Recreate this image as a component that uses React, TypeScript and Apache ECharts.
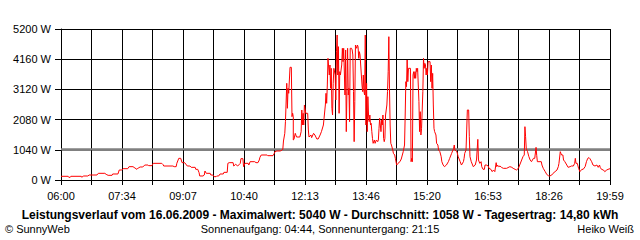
import React, { useEffect, useRef } from "react";
import * as echarts from "echarts";

// x values: minutes after 06:00 (axis spans 06:00 .. 19:59)
const X_TICK_LABELS = ["06:00", "07:34", "09:07", "10:40", "12:13", "13:46", "15:20", "16:53", "18:26", "19:59"];
const SPAN_MINUTES = 839;
const Y_MAX = 5200;
const Y_STEP = 1040;
const AVERAGE_W = 1058;

const TITLE = "Leistungsverlauf vom 16.06.2009 - Maximalwert: 5040 W - Durchschnitt: 1058 W - Tagesertrag: 14,80 kWh";
const FOOTER_LEFT = "© SunnyWeb";
const FOOTER_CENTER = "Sonnenaufgang: 04:44, Sonnenuntergang: 21:15";
const FOOTER_RIGHT = "Heiko Weiß";

const MINUTES = [
  0, 11, 12, 14, 15, 31, 32, 34, 41, 43, 55, 57, 67, 69, 72, 78, 79, 87, 89, 93,
  95, 102, 104, 110, 113, 116, 118, 121, 125, 128, 133, 134, 139, 141, 154, 156, 157, 171, 173, 176,
  177, 180, 183, 185, 189, 193, 197, 199, 205, 206, 209, 211, 212, 217, 219, 220, 222, 228, 229, 232,
  234, 237, 238, 241, 243, 248, 249, 254, 255, 257, 263, 264, 267, 270, 274, 275, 278, 279, 281, 286,
  287, 289, 296, 298, 301, 303, 304, 306, 315, 316, 324, 326, 327, 330, 335, 338, 339, 340, 342, 343,
  345, 346, 347, 348, 350, 352, 353, 354, 355, 355, 356, 358, 360, 365, 367, 368, 369, 370, 371, 372,
  374, 377, 378, 379, 382, 383, 386, 388, 391, 393, 396, 398, 401, 402, 404, 405, 406, 407, 408, 410,
  411, 412, 413, 414, 415, 416, 417, 419, 420, 421, 422, 423, 424, 425, 426, 427, 429, 430, 431, 432,
  434, 435, 436, 437, 438, 439, 440, 441, 442, 444, 445, 446, 447, 448, 449, 450, 451, 452, 453, 454,
  455, 456, 457, 459, 460, 461, 462, 463, 464, 465, 466, 467, 468, 469, 470, 471, 472, 473, 474, 475,
  476, 477, 479, 480, 482, 484, 485, 486, 487, 489, 490, 491, 492, 493, 494, 495, 496, 498, 499, 500,
  501, 502, 503, 504, 505, 507, 508, 510, 511, 513, 514, 515, 518, 520, 523, 525, 526, 527, 528, 529,
  530, 531, 534, 535, 536, 537, 538, 539, 540, 541, 542, 543, 544, 545, 546, 547, 548, 549, 550, 551,
  552, 553, 554, 555, 556, 557, 558, 559, 560, 561, 564, 565, 566, 567, 568, 569, 570, 571, 573, 574,
  576, 577, 579, 581, 582, 584, 586, 587, 589, 592, 594, 597, 600, 601, 602, 605, 607, 610, 612, 615,
  616, 617, 619, 620, 621, 623, 624, 625, 627, 629, 630, 633, 635, 636, 637, 638, 640, 642, 643, 645,
  647, 648, 650, 653, 654, 657, 659, 661, 663, 665, 666, 667, 669, 671, 673, 676, 681, 686, 689, 691,
  694, 696, 699, 701, 704, 706, 708, 709, 710, 711, 713, 715, 717, 719, 722, 724, 726, 727, 728, 734,
  735, 737, 740, 742, 745, 747, 750, 752, 755, 758, 760, 761, 763, 764, 765, 767, 768, 770, 773, 775,
  778, 780, 783, 785, 786, 787, 789, 791, 792, 793, 796, 798, 801, 803, 805, 807, 808, 811, 813, 816,
  819, 821, 823, 824, 826, 829, 831, 834, 836, 839,
];

const WATTS = [
  127, 127, 92, 92, 127, 127, 92, 138, 138, 172, 172, 230, 230, 195, 161, 161, 207, 207, 344, 344,
  390, 390, 459, 459, 413, 367, 413, 448, 448, 516, 516, 494, 494, 574, 574, 528, 482, 482, 459, 459,
  574, 746, 746, 597, 597, 482, 482, 436, 436, 367, 367, 252, 138, 138, 172, 310, 230, 230, 172, 172,
  115, 115, 138, 138, 207, 207, 264, 264, 574, 597, 597, 482, 540, 482, 574, 735, 735, 459, 574, 574,
  516, 631, 631, 597, 597, 689, 781, 861, 861, 838, 838, 918, 976, 999, 999, 1033, 1060, 1343, 1607, 2009,
  3330, 2469, 3158, 2985, 3881, 3881, 2180, 2300, 2180, 1378, 1400, 1607, 1480, 1480, 1665, 2411, 1894, 2296, 1894, 2583,
  2296, 2296, 1722, 1480, 1550, 1458, 1607, 1550, 1412, 1412, 1550, 1665, 1894, 2125, 2583, 2985, 2641, 3272, 4190, 3616,
  3960, 3158, 3846, 2469, 2238, 3330, 3846, 3616, 2755, 4419, 4993, 3616, 4591, 2296, 3731, 3616, 3961, 4535, 4075, 4535,
  2927, 4477, 1665, 3043, 4535, 2927, 3158, 2009, 4535, 4535, 4477, 4305, 3043, 1320, 2698, 4649, 4591, 4535, 4649, 4591,
  4190, 4419, 4305, 3616, 3272, 3043, 3616, 3043, 2927, 4993, 1894, 3330, 1665, 2870, 2238, 2009, 2238, 1894, 1951, 1665,
  1435, 1263, 1378, 1263, 1378, 1320, 1378, 1779, 2125, 1665, 2066, 1894, 2238, 1435, 1320, 1435, 2238, 2583, 3043, 3731,
  4935, 3158, 1894, 1263, 1205, 1033, 918, 861, 746, 516, 516, 574, 631, 723, 976, 1205, 2238, 3386, 3214, 4133,
  3386, 3846, 3846, 631, 746, 631, 3616, 3731, 3501, 3731, 3501, 3846, 3731, 3846, 3272, 2698, 1665, 2353, 1550, 1779,
  1779, 3043, 4190, 3846, 4018, 3960, 3616, 3846, 3616, 4075, 4075, 3386, 3960, 3158, 3673, 2583, 1779, 1665, 1550, 1263,
  1205, 1033, 976, 804, 631, 516, 459, 459, 516, 631, 746, 918, 1090, 1205, 1033, 976, 804, 631, 516, 631,
  746, 918, 1033, 1722, 2411, 2411, 1492, 804, 631, 516, 459, 516, 689, 689, 1400, 689, 574, 631, 459, 367,
  367, 516, 516, 482, 402, 367, 287, 344, 287, 597, 459, 516, 459, 482, 436, 402, 402, 459, 436, 402,
  367, 344, 402, 516, 689, 804, 861, 1836, 1492, 1090, 976, 804, 689, 631, 746, 746, 1125, 850, 631, 631,
  516, 402, 287, 207, 138, 138, 172, 230, 287, 344, 459, 574, 976, 918, 861, 861, 689, 631, 516, 436,
  459, 482, 482, 574, 746, 574, 574, 402, 344, 287, 367, 367, 459, 631, 746, 770, 746, 631, 516, 482,
  516, 436, 516, 436, 367, 344, 287, 344, 367, 390,
];

const FONT = "'Liberation Sans', Arial, sans-serif";

export default function App() {
  const ref = useRef<HTMLDivElement>(null);

  useEffect(() => {
    document.body.style.margin = "0";
    const chart = echarts.init(ref.current!, null, { renderer: "svg" });
    const minorStep = SPAN_MINUTES / 18;
    const labelStep = SPAN_MINUTES / 9;
    const tickValues = Array.from({ length: 19 }, (_, i) => (i === 18 ? SPAN_MINUTES : i * minorStep));
    const labelValues = Array.from({ length: 10 }, (_, i) => (i === 9 ? SPAN_MINUTES : i * labelStep));
    const data = MINUTES.map((m, i) => [m, WATTS[i]]);

    chart.setOption({
      animation: false,
      backgroundColor: "#ffffff",
      grid: { left: 61, right: 30, top: 29, bottom: 60, containLabel: false },
      xAxis: {
        type: "value",
        min: 0,
        max: SPAN_MINUTES,
        axisLine: { show: true, lineStyle: { color: "#000", width: 1 } },
        axisTick: { show: true, length: 5, customValues: tickValues, lineStyle: { color: "#000", width: 1 } },
        splitLine: { show: true, lineStyle: { color: "#000", width: 1 } },
        axisLabel: {
          customValues: labelValues,
          margin: 10,
          color: "#000",
          fontFamily: FONT,
          fontSize: 11,
          formatter: (v: number) => X_TICK_LABELS[Math.round(v / labelStep)] ?? "",
        },
      },
      yAxis: {
        type: "value",
        min: 0,
        max: Y_MAX,
        interval: Y_STEP,
        axisLine: { show: true, lineStyle: { color: "#000", width: 1 } },
        axisTick: { show: true, length: 6, lineStyle: { color: "#000", width: 1 } },
        splitLine: {
          show: true,
          lineStyle: { color: ["#000", "#808080", "#000", "#000", "#000", "#000"], width: 1 },
        },
        axisLabel: {
          margin: 10,
          color: "#000",
          fontFamily: FONT,
          fontSize: 11,
          formatter: (v: number) => `${v} W`,
        },
      },
      series: [
        {
          type: "line",
          data: [[0, AVERAGE_W], [SPAN_MINUTES, AVERAGE_W]],
          showSymbol: false,
          symbol: "none",
          lineStyle: { color: "#808080", width: 2 },
          silent: true,
          z: 2,
        },
        {
          type: "line",
          data,
          showSymbol: false,
          symbol: "none",
          lineStyle: { color: "#ff0000", width: 1 },
          z: 3,
        },
      ],
      graphic: [
        {
          type: "text",
          left: "center",
          top: 209,
          style: { text: TITLE, font: `bold 12px ${FONT}`, fill: "#000" },
        },
        {
          type: "text",
          left: 5,
          top: 223,
          style: { text: FOOTER_LEFT, font: `11px ${FONT}`, fill: "#000" },
        },
        {
          type: "text",
          left: "center",
          top: 223,
          style: { text: FOOTER_CENTER, font: `11px ${FONT}`, fill: "#000" },
        },
        {
          type: "text",
          right: 6,
          top: 223,
          style: { text: FOOTER_RIGHT, font: `11px ${FONT}`, fill: "#000" },
        },
      ],
    });
    return () => chart.dispose();
  }, []);

  return <div ref={ref} style={{ width: 640, height: 240 }} />;
}
